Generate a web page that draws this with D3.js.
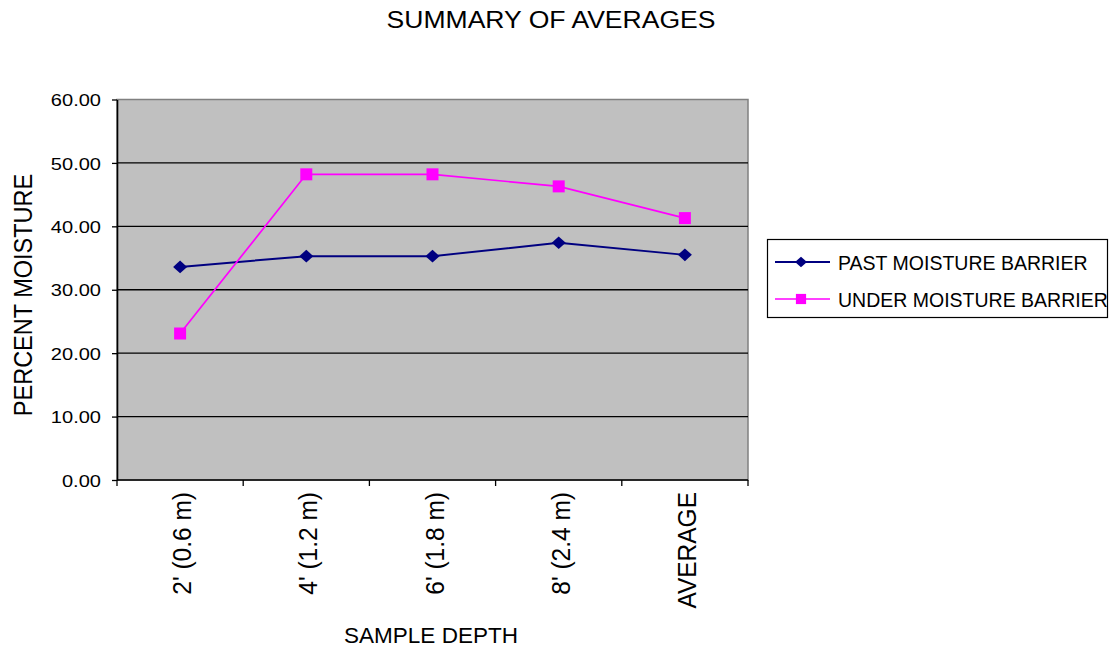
<!DOCTYPE html>
<html>
<head>
<meta charset="utf-8">
<script src="https://cdn.jsdelivr.net/npm/d3@7"></script>
<style>
  html, body { margin: 0; padding: 0; background: #fff; }
  svg { display: block; font-family: "Liberation Sans", Arial, sans-serif; }
</style>
</head>
<body>
<svg id="chart" width="1111" height="650"></svg>
<script>
// Sample depths along the x axis
const categories = ["2' (0.6 m)", "4' (1.2 m)", "6' (1.8 m)", "8' (2.4 m)", "AVERAGE"];
// Percent moisture for each series
const pastBarrier = [33.6, 35.3, 35.3, 37.4, 35.5];
const underBarrier = [23.1, 48.2, 48.2, 46.3, 41.3];
// Y axis tick values
const yTicks = [0, 10, 20, 30, 40, 50, 60];
// Series names
const seriesNames = ["PAST MOISTURE BARRIER", "UNDER MOISTURE BARRIER"];

const series = [
  { name: seriesNames[0], values: pastBarrier, color: "#000080", marker: "diamond", width: 2 },
  { name: seriesNames[1], values: underBarrier, color: "#FF00FF", marker: "square", width: 1.7 }
];

const svg = d3.select("#chart");
const plot = { left: 117, right: 748, top: 99.5, bottom: 480 };

const x = d3.scaleBand().domain(categories).range([plot.left, plot.right]);
const y = d3.scaleLinear().domain([0, 60]).range([plot.bottom, plot.top]);

// Marker shapes: a slightly wide diamond and a square
function markerPath(type, s) {
  if (type === "diamond") {
    const hw = 7 * s, hh = 6.3 * s;
    return `M0,${-hh}L${hw},0L0,${hh}L${-hw},0Z`;
  }
  const h = 6 * s;
  return `M${-h},${-h}H${h}V${h}H${-h}Z`;
}

// Plot background
svg.append("rect")
  .attr("x", plot.left).attr("y", plot.top)
  .attr("width", plot.right - plot.left).attr("height", plot.bottom - plot.top)
  .attr("fill", "#C0C0C0").attr("stroke", "#808080").attr("stroke-width", 1.5);

// Horizontal gridlines
svg.append("g").selectAll("line")
  .data(yTicks.filter(d => d > 0 && d < 60))
  .join("line")
  .attr("x1", plot.left).attr("x2", plot.right)
  .attr("y1", d => y(d)).attr("y2", d => y(d))
  .attr("stroke", "#000").attr("stroke-width", 1.3);

// Y axis
const yAxis = svg.append("g")
  .attr("transform", `translate(${plot.left},0)`)
  .call(d3.axisLeft(y).tickValues(yTicks).tickFormat(d3.format(".2f")).tickSize(5).tickSizeOuter(0));
yAxis.select(".domain").attr("stroke", "#000").attr("stroke-width", 1.6);
yAxis.selectAll(".tick line").attr("stroke", "#000").attr("stroke-width", 1.3);
yAxis.selectAll(".tick text").remove();
yAxis.selectAll(".tick").append("text")
  .attr("transform", "translate(-16,0) scale(1.18,1)")
  .attr("dy", "0.36em")
  .attr("text-anchor", "end")
  .attr("font-size", 17).attr("fill", "#000")
  .attr("font-family", "Liberation Sans, Arial, sans-serif")
  .text(d => d3.format(".2f")(d));

// X axis: ticks at band boundaries
const xAxisG = svg.append("g");
xAxisG.append("line")
  .attr("x1", plot.left).attr("x2", plot.right)
  .attr("y1", plot.bottom).attr("y2", plot.bottom)
  .attr("stroke", "#000").attr("stroke-width", 1.6);
const bounds = categories.map(c => x(c)).concat([x(categories[categories.length - 1]) + x.bandwidth()]);
xAxisG.selectAll("line.tick")
  .data(bounds)
  .join("line").attr("class", "tick")
  .attr("x1", d => d).attr("x2", d => d)
  .attr("y1", plot.bottom).attr("y2", plot.bottom + 6)
  .attr("stroke", "#000").attr("stroke-width", 1.3);
xAxisG.selectAll("text")
  .data(categories)
  .join("text")
  .attr("transform", d => `translate(${x(d) + x.bandwidth() / 2 + 11},${plot.bottom + 12}) scale(1.08,1) rotate(-90)`)
  .attr("text-anchor", "end")
  .attr("font-size", 24.5)
  .attr("fill", "#000")
  .text(d => d);

// Series lines and markers
const cx = d => x(d) + x.bandwidth() / 2;
series.forEach(s => {
  const pts = categories.map((c, i) => [cx(c), y(s.values[i])]);
  svg.append("path")
    .attr("d", d3.line()(pts))
    .attr("fill", "none").attr("stroke", s.color).attr("stroke-width", s.width);
  svg.append("g").selectAll("path")
    .data(pts)
    .join("path")
    .attr("transform", d => `translate(${d[0]},${d[1]})`)
    .attr("d", markerPath(s.marker, 1))
    .attr("fill", s.color);
});

// Title
svg.append("text")
  .attr("transform", "translate(551,28) scale(1.13,1)")
  .attr("text-anchor", "middle").attr("font-size", 23.5)
  .attr("fill", "#000")
  .text("SUMMARY OF AVERAGES");

// Axis titles
svg.append("text")
  .attr("transform", `translate(32,295) scale(1.13,1) rotate(-90)`)
  .attr("text-anchor", "middle").attr("font-size", 23.5)
  .attr("fill", "#000")
  .text("PERCENT MOISTURE");
svg.append("text")
  .attr("x", 431).attr("y", 643)
  .attr("text-anchor", "middle").attr("font-size", 22.5)
  .attr("fill", "#000")
  .text("SAMPLE DEPTH");

// Legend
const legend = svg.append("g");
legend.append("rect")
  .attr("x", 767.5).attr("y", 239.5).attr("width", 340).attr("height", 78)
  .attr("fill", "#fff").attr("stroke", "#000").attr("stroke-width", 1.2);
series.forEach((s, i) => {
  const ly = 262 + i * 37;
  legend.append("line")
    .attr("x1", 775).attr("x2", 830).attr("y1", ly).attr("y2", ly)
    .attr("stroke", s.color).attr("stroke-width", s.width);
  legend.append("path")
    .attr("transform", `translate(801,${ly})`)
    .attr("d", markerPath(s.marker, 0.85)).attr("fill", s.color);
  legend.append("text")
    .attr("x", 838).attr("y", ly + 7.5)
    .attr("font-size", 19.5).attr("fill", "#000")
    .text(s.name);
});
</script>
</body>
</html>
